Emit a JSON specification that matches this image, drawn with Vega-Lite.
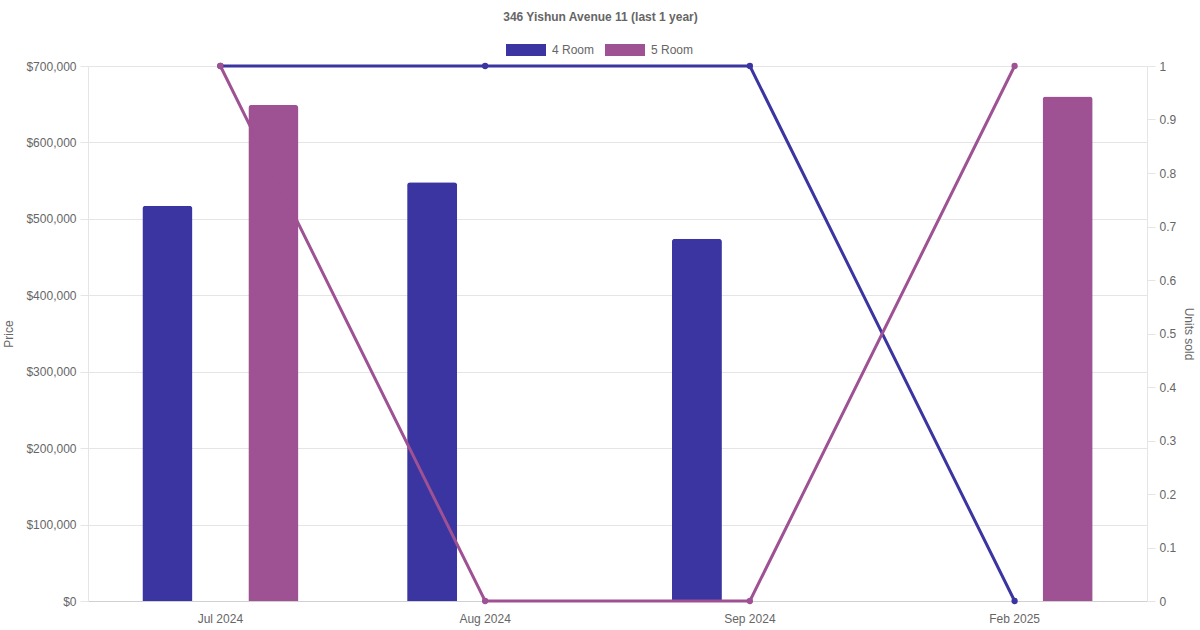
{
  "$schema": "https://vega.github.io/schema/vega-lite/v6.json",
  "autosize": "none",
  "width": 1059,
  "height": 535,
  "padding": {"left": 88, "top": 66, "right": 53, "bottom": 29},
  "background": "white",
  "title": {
    "text": "346 Yishun Avenue 11 (last 1 year)",
    "font": "Liberation Sans",
    "fontSize": 12,
    "fontWeight": "bold",
    "color": "#666666",
    "anchor": "middle",
    "dx": -17,
    "offset": 16
  },
  "data": {
    "values": [
      {"month": "Jul 2024", "type": "4 Room", "price": 517000, "units": 1},
      {"month": "Jul 2024", "type": "5 Room", "price": 649000, "units": 1},
      {"month": "Aug 2024", "type": "4 Room", "price": 548000, "units": 1},
      {"month": "Aug 2024", "type": "5 Room", "price": null, "units": 0},
      {"month": "Sep 2024", "type": "4 Room", "price": 474000, "units": 1},
      {"month": "Sep 2024", "type": "5 Room", "price": null, "units": 0},
      {"month": "Feb 2025", "type": "4 Room", "price": null, "units": 0},
      {"month": "Feb 2025", "type": "5 Room", "price": 660000, "units": 1}
    ]
  },
  "encoding": {
    "x": {
      "field": "month",
      "type": "ordinal",
      "sort": ["Jul 2024", "Aug 2024", "Sep 2024", "Feb 2025"],
      "scale": {"paddingInner": 0, "paddingOuter": 0},
      "axis": {
        "title": null,
        "labelAngle": 0,
        "ticks": false,
        "grid": false,
        "labelPadding": 12,
        "domainColor": "#d0d0d0"
      }
    }
  },
  "layer": [
    {
      "transform": [{"filter": "datum.price != null"}],
      "mark": {"type": "bar", "cornerRadiusTopLeft": 3, "cornerRadiusTopRight": 3},
      "encoding": {
        "xOffset": {
          "field": "type",
          "type": "nominal",
          "scale": {"domain": ["4 Room", "5 Room"], "paddingInner": 0.528, "paddingOuter": 0.513}
        },
        "y": {
          "field": "price",
          "type": "quantitative",
          "scale": {"domain": [0, 700000]},
          "axis": {
            "title": "Price",
            "format": "$,.0f",
            "values": [0, 100000, 200000, 300000, 400000, 500000, 600000, 700000],
            "tickSize": 8,
            "labelPadding": 4,
            "titlePadding": 10
          }
        },
        "color": {
          "field": "type",
          "type": "nominal",
          "scale": {"domain": ["4 Room", "5 Room"], "range": ["#3a35a0", "#9e5193"]},
          "legend": {
            "title": null,
            "orient": "none",
            "direction": "horizontal",
            "legendX": 428,
            "legendY": -26,
            "symbolType": "M-2,-0.6H2V0.6H-2Z",
            "symbolSize": 400,
            "symbolStrokeWidth": 0,
            "labelOffset": 16,
            "columnPadding": 10
          }
        }
      }
    },
    {
      "mark": {"type": "line", "strokeWidth": 3, "point": {"filled": true, "size": 40}},
      "encoding": {
        "y": {
          "field": "units",
          "type": "quantitative",
          "scale": {"domain": [0, 1]},
          "axis": {
            "title": "Units sold",
            "orient": "right",
            "grid": false,
            "values": [0, 0.1, 0.2, 0.3, 0.4, 0.5, 0.6, 0.7, 0.8, 0.9, 1],
            "format": "~g",
            "tickSize": 8,
            "labelPadding": 4,
            "titlePadding": 6
          }
        },
        "color": {"field": "type", "type": "nominal", "legend": null}
      }
    }
  ],
  "resolve": {"scale": {"y": "independent"}},
  "config": {
    "font": "Liberation Sans",
    "view": {"stroke": null},
    "axis": {
      "labelFont": "Liberation Sans",
      "labelFontSize": 12,
      "labelColor": "#666666",
      "titleFont": "Liberation Sans",
      "titleFontSize": 12,
      "titleFontWeight": "normal",
      "titleColor": "#666666",
      "gridColor": "#e5e5e5",
      "tickColor": "#e5e5e5",
      "domainColor": "#e5e5e5"
    },
    "legend": {
      "labelFont": "Liberation Sans",
      "labelFontSize": 12,
      "labelColor": "#666666"
    }
  }
}
